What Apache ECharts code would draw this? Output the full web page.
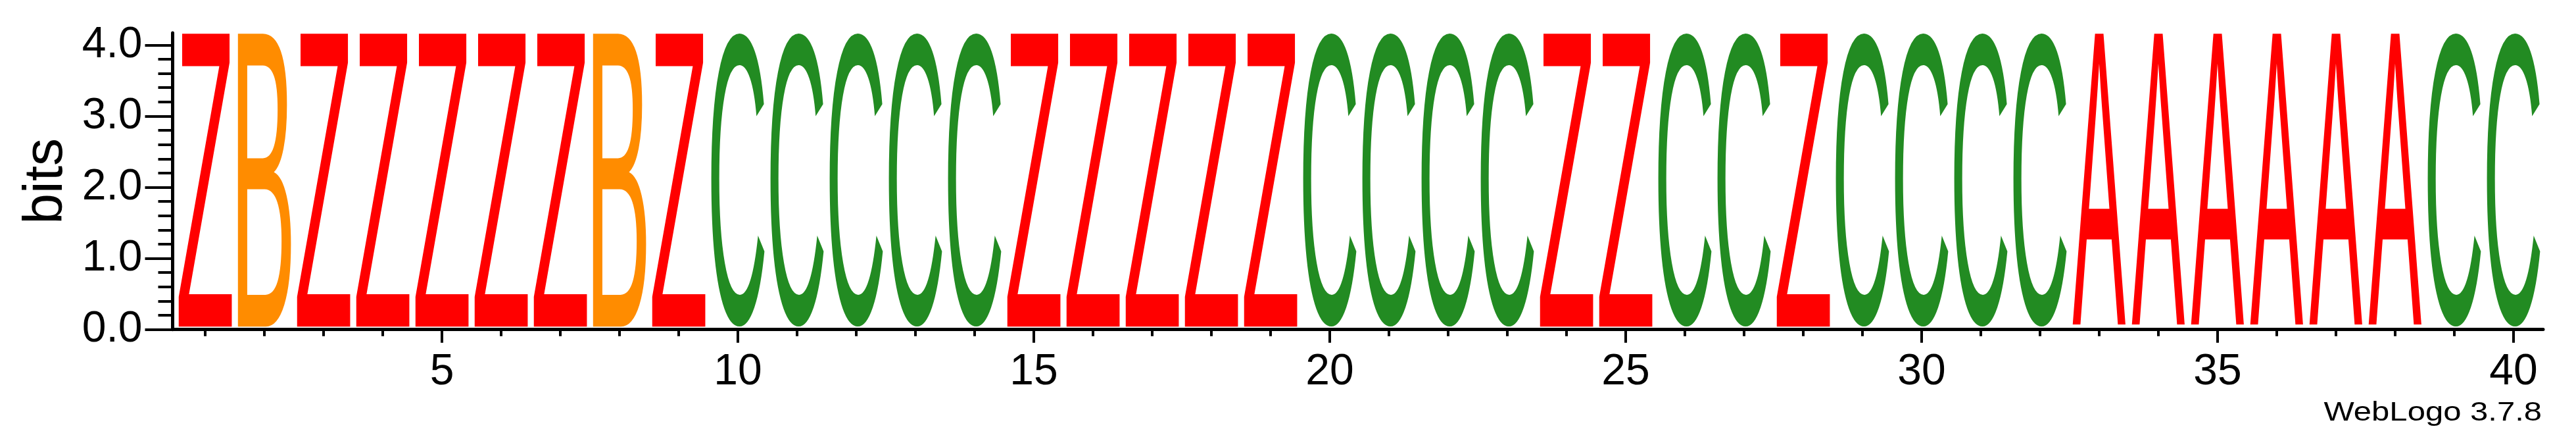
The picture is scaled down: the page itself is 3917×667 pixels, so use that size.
<!DOCTYPE html>
<html><head><meta charset="utf-8">
<script src="https://cdn.jsdelivr.net/npm/echarts@6/dist/echarts.min.js"></script>
<style>html,body{margin:0;padding:0;background:#fff}#c{width:3917px;height:667px}</style>
</head><body><div id="c"></div>
<script>
// ---- data ----
const positions = [1,2,3,4,5,6,7,8,9,10,11,12,13,14,15,16,17,18,19,20,21,22,23,24,25,26,27,28,29,30,31,32,33,34,35,36,37,38,39,40];
const letters = ['Z','B','Z','Z','Z','Z','Z','B','Z','C','C','C','C','C','Z','Z','Z','Z','Z','C','C','C','C','Z','Z','C','C','Z','C','C','C','C','A','A','A','A','A','A','C','C'];
const heights = [4.17,4.17,4.17,4.17,4.17,4.17,4.17,4.17,4.17,4.17,4.17,4.17,4.17,4.17,4.17,4.17,4.17,4.17,4.17,4.17,4.17,4.17,4.17,4.17,4.17,4.17,4.17,4.17,4.17,4.17,4.17,4.17,4.17,4.17,4.17,4.17,4.17,4.17,4.17,4.17];
const yMajorTicks = [0,1,2,3,4];
const yMinorTicks = [0.2,0.4,0.6,0.8,1.2,1.4,1.6,1.8,2.2,2.4,2.6,2.8,3.2,3.4,3.6,3.8];
const xMajorTicks = [5,10,15,20,25,30,35,40];
const xMinorTicks = [1,2,3,4,6,7,8,9,11,12,13,14,16,17,18,19,21,22,23,24,26,27,28,29,31,32,33,34,36,37,38,39];
const letterColors = {Z:'#ff0000', B:'#ff8c00', C:'#228b22', A:'#ff0000'};

// ---- glyph metrics (to fit each letter's ink into its stack box) ----
const GLYPH_FONT = '200px "Liberation Sans"';
const cv = document.createElement('canvas');
const ctx = cv.getContext('2d');
ctx.font = GLYPH_FONT; ctx.textAlign = 'center'; ctx.textBaseline = 'middle';
const metrics = {};
letters.forEach(ch => {
  if (metrics[ch]) return;
  const m = ctx.measureText(ch);
  metrics[ch] = {l: m.actualBoundingBoxLeft, r: m.actualBoundingBoxRight, a: m.actualBoundingBoxAscent, d: m.actualBoundingBoxDescent};
});
const LETTER_W = 0.9;   // fraction of a stack occupied by a letter
const BASE_GAP = 4.5;   // px between letters and the axis line

const chart = echarts.init(document.getElementById('c'), null, {renderer: 'canvas'});
const FONT = 'Liberation Sans';
chart.setOption({
  animation: false,
  backgroundColor: '#ffffff',
  grid: {left: 262.5, right: 50, top: 50, bottom: 166.3, containLabel: false, outerBoundsMode: 'none'},
  xAxis: [
    {type: 'value', min: 0.45, max: 40.5, position: 'bottom',
     axisLine: {show: true, onZero: false, lineStyle: {color: '#000', width: 5}},
     axisTick: {show: true, customValues: xMajorTicks, length: 20, lineStyle: {color: '#000', width: 4}},
     axisLabel: {show: true, customValues: xMajorTicks, fontFamily: FONT, fontSize: 66, color: '#000', margin: 32},
     splitLine: {show: false}},
    {type: 'value', min: 0.45, max: 40.5, position: 'bottom', offset: 0,
     axisLine: {show: false, onZero: false},
     axisTick: {show: true, customValues: xMinorTicks, length: 10, lineStyle: {color: '#000', width: 4}},
     axisLabel: {show: false}, splitLine: {show: false}}
  ],
  yAxis: [
    {type: 'value', min: 0, max: 4.17, position: 'left',
     name: 'bits', nameLocation: 'middle', nameGap: 150,
     nameTextStyle: {fontFamily: FONT, fontSize: 84, color: '#000'},
     axisLine: {show: true, lineStyle: {color: '#000', width: 5}},
     axisTick: {show: true, customValues: yMajorTicks, length: 42, lineStyle: {color: '#000', width: 4}},
     axisLabel: {show: true, customValues: yMajorTicks, formatter: v => Number(v).toFixed(1), fontFamily: FONT, fontSize: 66, color: '#000', margin: 46},
     splitLine: {show: false}},
    {type: 'value', min: 0, max: 4.17, position: 'left', offset: 0,
     axisLine: {show: false},
     axisTick: {show: true, customValues: yMinorTicks, length: 22, lineStyle: {color: '#000', width: 4}},
     axisLabel: {show: false}, splitLine: {show: false}}
  ],
  graphic: [
    {type: 'text', x: 3865, y: 628.3, scaleX: 1.21, silent: true,
     style: {text: 'WebLogo 3.7.8', font: '40.5px "Liberation Sans"', fill: '#000', align: 'right', verticalAlign: 'middle'}}
  ],
  series: [{
    type: 'custom', xAxisIndex: 0, yAxisIndex: 0, clip: false, silent: true,
    data: positions.map((p, i) => [p, heights[i]]),
    encode: {x: 0, y: 1},
    renderItem: function (params, api) {
      const i = params.dataIndex;
      const xv = api.value(0), hv = api.value(1);
      const ch = letters[i], m = metrics[ch];
      const tl = api.coord([xv - LETTER_W / 2, hv]);
      const br = api.coord([xv + LETTER_W / 2, 0]);
      const x0 = tl[0], x1 = br[0], y0 = tl[1], y1 = br[1] - BASE_GAP;
      const sx = (x1 - x0) / (m.l + m.r), sy = (y1 - y0) / (m.a + m.d);
      return {
        type: 'text', x: x0 + sx * m.l, y: y0 + sy * m.a, scaleX: sx, scaleY: sy,
        style: {text: ch, x: 0, y: 0, font: GLYPH_FONT, fill: letterColors[ch], align: 'center', verticalAlign: 'middle'}
      };
    }
  }]
});
</script></body></html>
